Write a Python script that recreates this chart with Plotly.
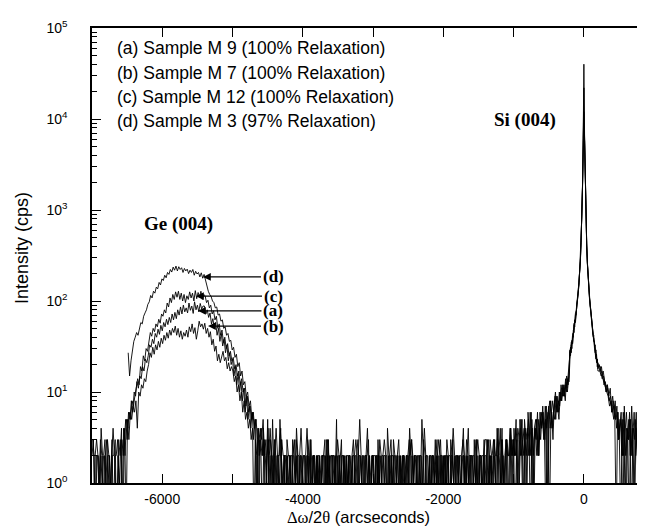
import math
import plotly.graph_objects as go

# ---- abscissa sampling (arcseconds) ----
x_left = list(range(-7000, -200, 20))      # -7000 ... -220
x_fine = list(range(-200, 201, 10))        # -200 ... 200 (Si peak)
x_right = list(range(220, 961, 20))        # 220 ... 960
# each scan was recorded on its own sampling phase (arcsec)
scan_phase = {"a": 0, "b": 5, "c": 10, "d": 15}

# ---- intensities (cps); one row = 400 arcsec ----
a_left = [
    2, 3, 0, 2, 2, 1, 3, 2, 0, 2, 1, 3, 2, 0, 2, 4, 2, 1, 0, 3,
    2, 4, 0, 3, 5, 3, 6, 5, 8, 6, 10, 9, 13, 11, 15, 14, 19, 17, 23, 21,
    25, 33, 31, 38, 34, 44, 40, 49, 43, 54, 47, 58, 52, 63, 55, 66, 58, 72, 62, 75,
    64, 80, 70, 86, 72, 90, 76, 84, 74, 95, 79, 88, 73, 98, 80, 90, 76, 94, 82, 88,
    88, 72, 80, 66, 74, 56, 64, 50, 58, 42, 50, 36, 44, 32, 38, 27, 33, 22, 27, 20,
    23, 15, 19, 12, 16, 10, 13, 8, 11, 6, 9, 5, 7, 4, 6, 3, 5, 0, 4, 2,
    3, 2, 4, 0, 2, 5, 1, 3, 2, 0, 2, 4, 2, 1, 0, 3, 2, 2, 0, 2,
    1, 2, 0, 2, 3, 1, 2, 0, 2, 2, 1, 0, 2, 4, 2, 0, 1, 2, 2, 0,
    2, 0, 2, 1, 2, 2, 0, 3, 1, 2, 0, 2, 2, 1, 5, 0, 2, 1, 2, 2,
    0, 2, 1, 2, 0, 2, 3, 1, 2, 0, 2, 2, 1, 0, 2, 2, 4, 1, 0, 2,
    2, 1, 0, 2, 2, 0, 1, 2, 3, 2, 0, 2, 1, 2, 0, 2, 2, 1, 0, 2,
    1, 2, 2, 0, 2, 1, 4, 2, 0, 2, 2, 1, 0, 2, 2, 0, 3, 2, 1, 0,
    2, 0, 2, 2, 1, 2, 0, 2, 3, 1, 2, 0, 2, 2, 0, 1, 2, 4, 2, 0,
    2, 1, 0, 2, 3, 2, 0, 2, 1, 2, 2, 0, 3, 1, 2, 0, 2, 2, 1, 3,
    0, 2, 3, 1, 2, 0, 3, 2, 2, 4, 0, 2, 3, 1, 2, 3, 0, 2, 4, 2,
    3, 0, 2, 4, 3, 2, 5, 0, 3, 2, 4, 3, 0, 5, 2, 4, 3, 6, 2, 5,
    4, 6, 3, 0, 5, 7, 4, 6, 3, 8, 5, 9, 6, 10, 8, 12, 9, 14, 11, 17]
a_fine = [24, 31, 27, 37, 34, 48, 45, 62, 58, 80,
          90, 104, 128, 152, 205, 275, 460, 790, 1850, 6100,
          40000,
          6300, 1750, 760, 410, 265, 178, 142, 108, 92, 74,
          66, 50, 47, 36, 36, 27, 29, 21, 23, 18]
a_right = [20, 17, 14, 15, 12, 10, 11, 8, 9, 6, 7, 5, 0, 6, 3, 5, 2, 6, 4, 0,
           3, 5, 2, 7, 3, 0, 4, 2, 5, 3, 0, 4, 6, 2, 3, 5, 0, 4]

b_left = [
    1, 0, 2, 3, 2, 0, 2, 1, 2, 3, 0, 2, 2, 1, 3, 0, 2, 2, 3, 1,
    0, 3, 2, 4, 0, 5, 3, 6, 5, 7, 6, 8, 4, 10, 9, 12, 11, 14, 13, 17,
    20, 27, 24, 31, 26, 33, 29, 36, 31, 39, 34, 42, 37, 45, 39, 48, 42, 50, 45, 53,
    42, 50, 40, 47, 38, 45, 41, 48, 40, 52, 46, 56, 44, 51, 38, 47, 60, 52, 56, 49,
    57, 44, 50, 40, 46, 33, 38, 28, 32, 22, 26, 21, 25, 28, 22, 24, 18, 21, 17, 19,
    17, 13, 15, 10, 12, 8, 10, 6, 8, 5, 6, 4, 5, 3, 4, 0, 3, 2, 0, 3,
    2, 0, 3, 2, 1, 4, 0, 2, 2, 1, 3, 0, 2, 2, 4, 1, 0, 2, 2, 1,
    0, 2, 2, 1, 0, 3, 2, 2, 0, 1, 2, 2, 0, 2, 1, 3, 0, 2, 2, 1,
    2, 1, 0, 2, 2, 0, 2, 1, 3, 0, 2, 2, 1, 2, 0, 2, 2, 0, 1, 2,
    1, 2, 2, 0, 1, 2, 0, 2, 2, 3, 1, 0, 2, 2, 0, 2, 1, 2, 0, 2,
    2, 0, 2, 1, 2, 0, 2, 2, 1, 0, 4, 2, 0, 2, 2, 1, 0, 2, 3, 1,
    0, 2, 2, 1, 0, 2, 2, 3, 2, 0, 1, 2, 0, 2, 2, 1, 0, 2, 2, 0,
    2, 2, 0, 1, 3, 1, 2, 0, 2, 2, 0, 2, 1, 2, 0, 3, 2, 1, 2, 0,
    0, 2, 1, 2, 4, 1, 2, 0, 2, 2, 0, 1, 2, 3, 0, 2, 2, 1, 0, 2,
    2, 0, 1, 3, 2, 0, 2, 1, 4, 2, 0, 3, 2, 1, 0, 3, 2, 2, 3, 0,
    4, 2, 3, 0, 2, 5, 3, 2, 4, 0, 6, 3, 2, 4, 0, 3, 5, 2, 4, 3,
    6, 4, 3, 7, 0, 5, 8, 4, 6, 5, 9, 7, 5, 10, 8, 12, 9, 13, 10, 15]
b_fine = [28, 25, 33, 30, 41, 40, 55, 52, 71, 70,
          92, 101, 122, 160, 198, 290, 440, 820, 1750, 5800,
          22000,
          5900, 1800, 740, 430, 255, 182, 138, 112, 88, 77,
          58, 57, 43, 42, 31, 33, 24, 26, 19, 21]
b_right = [18, 15, 16, 12, 13, 10, 9, 7, 8, 6, 5, 8, 4, 6, 3, 0, 5, 2, 4, 6,
           3, 0, 5, 2, 4, 3, 6, 2, 0, 3, 5, 2, 4, 0, 3, 6, 2, 2]

c_left = [
    3, 2, 0, 2, 2, 1, 4, 2, 0, 2, 3, 1, 2, 0, 2, 2, 3, 0, 2, 1,
    3, 0, 4, 2, 5, 4, 6, 5, 8, 7, 9, 11, 14, 12, 19, 17, 25, 22, 30, 28,
    36, 45, 41, 50, 46, 56, 52, 63, 57, 72, 68, 80, 74, 95, 86, 108, 96, 118, 104, 126,
    110, 128, 104, 122, 100, 118, 96, 114, 104, 126, 108, 122, 100, 130, 106, 124, 110, 128, 104, 118,
    114, 96, 102, 84, 90, 72, 78, 62, 68, 50, 56, 42, 48, 35, 40, 30, 34, 25, 28, 22,
    24, 18, 20, 15, 17, 12, 14, 10, 11, 7, 9, 6, 7, 5, 6, 4, 5, 0, 4, 3,
    4, 2, 3, 0, 2, 3, 2, 1, 5, 2, 0, 2, 2, 1, 3, 0, 2, 2, 1, 2,
    2, 0, 2, 2, 1, 4, 2, 0, 2, 1, 2, 2, 0, 3, 2, 1, 0, 2, 2, 0,
    2, 2, 0, 1, 2, 2, 0, 3, 2, 1, 0, 2, 2, 0, 2, 1, 2, 3, 0, 2,
    0, 1, 2, 2, 0, 2, 2, 1, 0, 2, 5, 2, 1, 0, 2, 2, 0, 2, 1, 2,
    2, 2, 0, 3, 1, 2, 0, 2, 2, 1, 0, 2, 2, 0, 3, 2, 1, 2, 0, 2,
    0, 2, 1, 2, 2, 0, 2, 3, 1, 2, 0, 2, 2, 1, 0, 2, 4, 2, 0, 1,
    2, 0, 2, 1, 2, 3, 0, 2, 2, 0, 2, 1, 3, 2, 0, 2, 2, 1, 0, 2,
    1, 2, 2, 0, 2, 1, 3, 2, 0, 2, 2, 1, 0, 2, 3, 2, 0, 2, 2, 1,
    2, 3, 0, 2, 1, 2, 3, 0, 2, 2, 4, 1, 2, 0, 3, 2, 2, 4, 0, 3,
    2, 4, 3, 0, 5, 2, 3, 4, 0, 3, 5, 2, 6, 0, 3, 4, 2, 5, 3, 6,
    5, 3, 7, 4, 6, 0, 5, 8, 6, 9, 7, 6, 10, 8, 11, 9, 12, 10, 14, 13]
c_fine = [23, 31, 29, 36, 35, 46, 48, 62, 62, 84,
          88, 107, 124, 150, 210, 270, 455, 780, 1800, 5900,
          12000,
          6000, 1850, 770, 420, 262, 176, 138, 110, 90, 73,
          64, 49, 46, 38, 35, 28, 29, 22, 23, 17]
c_right = [17, 19, 14, 13, 11, 12, 9, 8, 7, 9, 6, 5, 7, 3, 4, 6, 2, 5, 0, 4,
           3, 6, 2, 4, 0, 5, 3, 2, 6, 4, 3, 0, 5, 2, 4, 3, 0, 5]

d_left = [
    None, None, None, None, None, None, None, None, None, None,
    None, None, None, None, None, None, None, None, None, None,
    None, None, None, None, None, 27, 15, 22, 30, 36, 40, 45, 42, 52, 58, 56, 68, 74, 80, 92,
    98, 115, 108, 128, 122, 142, 136, 160, 150, 175, 168, 192, 180, 206, 196, 222, 208, 236, 218, 242,
    214, 238, 222, 232, 206, 228, 214, 224, 200, 218, 206, 222, 192, 212, 198, 206, 184, 204, 178, 196,
    170, 140, 128, 118, 112, 100, 96, 84, 86, 70, 72, 60, 62, 50, 52, 42, 44, 36, 37, 29,
    31, 24, 26, 19, 21, 15, 17, 12, 13, 9, 10, 7, 8, 5, 6, 4, 5, 3, 0, 4,
    3, 5, 2, 3, 0, 2, 4, 2, 1, 3, 2, 0, 2, 5, 2, 1, 2, 0, 3, 2,
    2, 0, 3, 2, 1, 2, 0, 2, 4, 2, 1, 0, 2, 2, 0, 3, 1, 2, 0, 2,
    1, 2, 0, 2, 2, 3, 0, 2, 1, 2, 2, 0, 1, 2, 3, 2, 0, 2, 2, 0,
    2, 0, 2, 2, 1, 0, 2, 3, 2, 0, 2, 1, 2, 0, 2, 2, 3, 0, 1, 2,
    0, 2, 2, 1, 3, 2, 0, 1, 2, 2, 0, 2, 3, 1, 2, 0, 2, 2, 0, 1,
    2, 1, 0, 2, 2, 3, 0, 2, 1, 2, 2, 0, 2, 1, 5, 2, 0, 2, 2, 1,
    0, 2, 2, 1, 0, 2, 3, 2, 0, 1, 2, 2, 0, 2, 2, 1, 3, 0, 2, 2,
    2, 0, 1, 2, 2, 0, 2, 4, 1, 0, 2, 2, 1, 3, 0, 2, 2, 0, 2, 3,
    3, 1, 2, 0, 2, 3, 2, 0, 3, 2, 1, 4, 0, 2, 3, 2, 0, 4, 2, 3,
    2, 5, 0, 3, 4, 2, 0, 5, 3, 4, 2, 6, 3, 0, 4, 5, 3, 2, 6, 4,
    7, 3, 5, 0, 6, 8, 5, 4, 7, 10, 6, 8, 7, 12, 9, 11, 8, 15, 12, 18]
d_fine = [29, 28, 35, 34, 44, 44, 57, 58, 74, 78,
          95, 110, 130, 158, 215, 300, 470, 820, 1700, 5600,
          7500,
          5700, 1700, 720, 400, 250, 170, 135, 105, 86, 70,
          57, 52, 41, 39, 30, 30, 23, 24, 19, 19]
d_right = [19, 16, 17, 13, 10, 12, 9, 11, 6, 8, 7, 5, 6, 3, 5, 4, 0, 7, 2, 4,
           3, 5, 0, 3, 6, 2, 4, 5, 0, 3, 2, 6, 4, 0, 5, 3, 2, 4]

scans = {
    "a": (a_left, a_fine, a_right),
    "b": (b_left, b_fine, b_right),
    "c": (c_left, c_fine, c_right),
    "d": (d_left, d_fine, d_right),
}
for k, (l, f, r) in scans.items():
    if len(l) != len(x_left) or len(f) != len(x_fine) or len(r) != len(x_right):
        raise ValueError(f"scan {k}: {len(l)}/{len(f)}/{len(r)} vs "
                         f"{len(x_left)}/{len(x_fine)}/{len(x_right)}")

legend_lines = [
    "(a) Sample M 9 (100% Relaxation)",
    "(b) Sample M 7 (100% Relaxation)",
    "(c) Sample M 12 (100% Relaxation)",
    "(d) Sample M 3 (97% Relaxation)",
]
x_tickvals = [-6000, -4000, -2000, 0]
x_ticktext = ["-6000", "-4000", "-2000", "0"]
x_minor = [-5000, -3000, -1000]
y_tickvals = [1, 10, 100, 1000, 10000, 100000]
y_ticktext = ["10<sup>0</sup>", "10<sup>1</sup>", "10<sup>2</sup>",
              "10<sup>3</sup>", "10<sup>4</sup>", "10<sup>5</sup>"]
y_minor = [m * 10 ** e for e in range(0, 5) for m in range(2, 10)]

ZERO_FLOOR = 0.3  # zero counts fall below the log-axis floor

SANS = "Liberation Sans, Arial, sans-serif"
SERIF = "Liberation Serif, Times New Roman, serif"

fig = go.Figure()
for k in ["b", "a", "c", "d"]:
    l, f, r = scans[k]
    sp = scan_phase[k]
    xs = [x + sp for x in x_left] + x_fine + [x + sp for x in x_right]
    vals = l + f + r
    ys = [None if v is None else (ZERO_FLOOR if v == 0 else v) for v in vals]
    fig.add_trace(go.Scatter(x=xs, y=ys, mode="lines",
                             line=dict(color="black", width=0.9),
                             showlegend=False, hoverinfo="skip"))

W, H = 645, 528
L, R, T, B = 84, 2, 20, 53
pw, ph = W - L - R, H - T - B


def px2paper(px, py):
    return (px - L) / pw, (H - B - py) / ph


fig.update_layout(
    width=W, height=H,
    margin=dict(l=L, r=R, t=T, b=B, pad=0, autoexpand=False),
    paper_bgcolor="white", plot_bgcolor="white",
    font=dict(family=SANS, size=14, color="black"),
    xaxis=dict(range=[-7000, 955], showgrid=False, zeroline=False,
               showline=True, linecolor="black", linewidth=1.5, mirror="ticks",
               ticks="inside", ticklen=9, tickwidth=1.2, tickcolor="black",
               tickmode="array", tickvals=x_tickvals, ticktext=x_ticktext,
               tickfont=dict(family=SANS, size=14), ticklabelstandoff=2,
               minor=dict(tickmode="array", tickvals=x_minor, ticks="inside",
                          ticklen=9, tickwidth=1.2, tickcolor="black")),
    yaxis=dict(type="log", range=[0, 5], showgrid=False, zeroline=False,
               showline=True, linecolor="black", linewidth=1.5, mirror="ticks",
               ticks="inside", ticklen=9, tickwidth=1.2, tickcolor="black",
               tickmode="array", tickvals=y_tickvals, ticktext=y_ticktext,
               tickfont=dict(family=SANS, size=14), ticklabelstandoff=20,
               minor=dict(tickmode="array", tickvals=y_minor, ticks="inside",
                          ticklen=5, tickwidth=1, tickcolor="black")),
)

annotations = []
leg_y = [40, 65, 89, 113]
for txt, py in zip(legend_lines, leg_y):
    xp, yp = px2paper(107, py)
    annotations.append(dict(xref="paper", yref="paper", x=xp, y=yp, text=txt,
                            xanchor="left", yanchor="middle", showarrow=False,
                            font=dict(family=SANS, size=17.5)))

xp, yp = px2paper(170, 216)
annotations.append(dict(xref="paper", yref="paper", x=xp, y=yp, text="<b>Ge (004)</b>",
                        xanchor="center", yanchor="middle",
                        showarrow=False, font=dict(family=SERIF, size=19)))
xp, yp = px2paper(517, 112)
annotations.append(dict(xref="paper", yref="paper", x=xp, y=yp, text="<b>Si (004)</b>",
                        xanchor="center", yanchor="middle",
                        showarrow=False, font=dict(family=SERIF, size=19)))

xp, yp = px2paper(350, 509)
annotations.append(dict(xref="paper", yref="paper", x=xp, y=yp,
                        text="<span style='font-family:Liberation Serif'>\u0394\u03c9</span>/2"
                             "<span style='font-family:Liberation Serif'>\u03b8</span> (arcseconds)",
                        xanchor="center", yanchor="middle",
                        showarrow=False, font=dict(family=SANS, size=16.5)))
xp, yp = px2paper(14, 240)
annotations.append(dict(xref="paper", yref="paper", x=xp, y=yp, text="Intensity (cps)",
                        xanchor="center", yanchor="middle",
                        textangle=-90, showarrow=False, font=dict(family=SANS, size=18)))

# curve labels with arrows (tip in data coords, text offset in pixels)
arrow_labels = [("(d)", -5420, 184, 70), ("(c)", -5520, 113, 77),
                ("(a)", -5492, 78, 75), ("(b)", -5349, 53, 65)]
for txt, xv, yv, ax in arrow_labels:
    annotations.append(dict(x=xv, y=math.log10(yv), xref="x", yref="y",
                            text=f"<b>{txt}</b>", showarrow=True, ax=ax, ay=0,
                            arrowhead=2, arrowsize=1.3, arrowwidth=1.2,
                            arrowcolor="black", standoff=0,
                            font=dict(family=SERIF, size=17)))

fig.update_layout(annotations=annotations)
fig.write_html("out.html", config={"displayModeBar": False})
